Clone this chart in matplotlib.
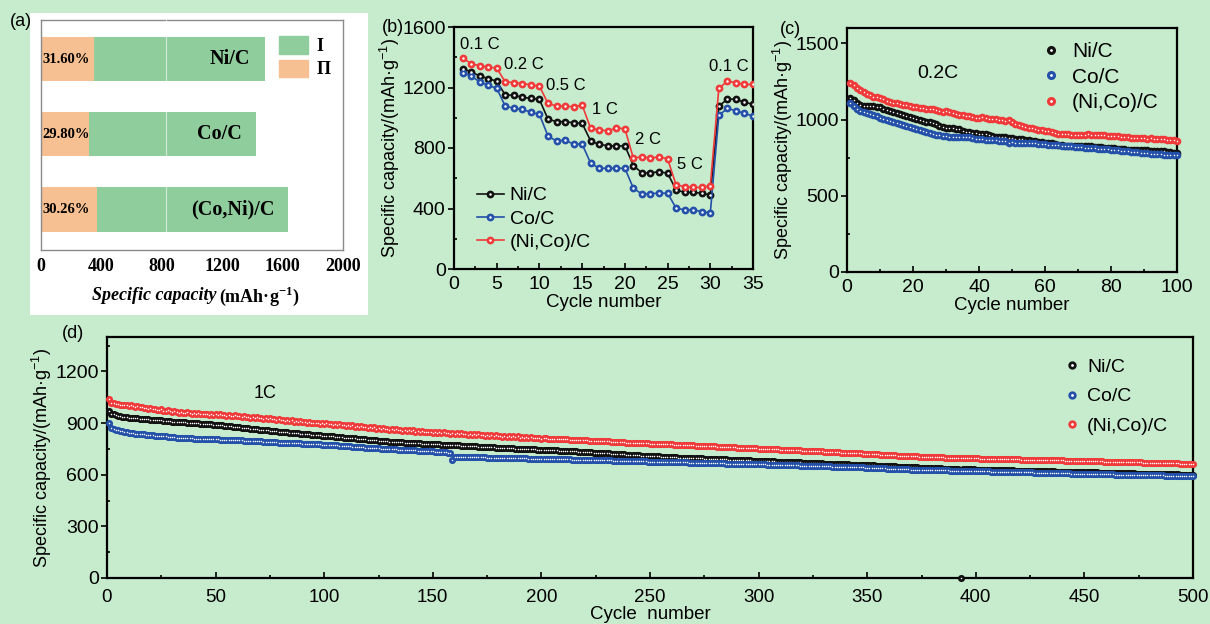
import matplotlib
matplotlib.use("Agg")
import matplotlib.pyplot as plt
import numpy as np
from matplotlib.legend_handler import HandlerTuple
from matplotlib.lines import Line2D
from matplotlib.patches import Patch, Rectangle
from matplotlib.ticker import MultipleLocator

plt.rcParams['font.family'] = ['Liberation Sans', 'DejaVu Sans']
plt.rcParams['mathtext.fontset'] = 'custom'
plt.rcParams['mathtext.rm'] = 'Liberation Sans'
plt.rcParams['mathtext.it'] = 'Liberation Sans:italic'
plt.rcParams['mathtext.bf'] = 'Liberation Serif:bold'

BG = '#c7ebcd'
BLACK = '#111111'
BLUE = '#2350a8'
RED = '#f03a3a'

# ---------------- data ----------------
# (a) capacity split
bar_names = ['Ni/C', 'Co/C', '(Co,Ni)/C']
bar_total = [1482, 1423, 1639]
bar_part2 = [348, 321, 374]
bar_pct = ['31.60%', '29.80%', '30.26%']

# (b) rate performance
rate_ni = [1325, 1303, 1277, 1259, 1242, 1150, 1150, 1134, 1130, 1121,
           991, 974, 974, 967, 963, 846, 824, 815, 813, 815,
           684, 635, 635, 644, 633, 523, 506, 506, 501, 490,
           1077, 1123, 1123, 1101, 1090]
rate_co = [1297, 1277, 1237, 1215, 1194, 1077, 1062, 1055, 1037, 1022,
           879, 846, 851, 826, 826, 699, 666, 666, 666, 666,
           534, 495, 499, 501, 501, 402, 391, 391, 380, 369,
           1015, 1062, 1046, 1029, 1011]
rate_nico = [1396, 1358, 1343, 1336, 1328, 1237, 1233, 1226, 1218, 1209,
             1095, 1077, 1077, 1073, 1084, 930, 919, 914, 932, 928,
             732, 743, 732, 743, 728, 556, 545, 539, 539, 550,
             1194, 1242, 1231, 1220, 1220]
rate_labels = ['0.1 C', '0.2 C', '0.5 C', '1 C', '2 C', '5 C', '0.1 C']

# (c) 0.2C cycling, 100 cycles
c_ni = [1140, 1125, 1108, 1096, 1090, 1089, 1088, 1087, 1084, 1080,
        1070, 1062, 1055, 1048, 1042, 1037, 1030, 1024, 1015, 1008,
        1002, 995, 990, 986, 982, 978, 970, 960, 950, 946,
        944, 942, 940, 935, 925, 920, 916, 912, 909, 907,
        905, 902, 898, 893, 888, 886, 884, 882, 880, 878,
        875, 872, 869, 866, 863, 860, 858, 855, 852, 848,
        845, 843, 840, 836, 832, 829, 828, 828, 827, 828,
        828, 826, 825, 823, 821, 820, 818, 816, 814, 812,
        810, 808, 806, 804, 803, 802, 800, 799, 798, 798,
        797, 796, 795, 794, 793, 791, 789, 786, 782, 778]
c_co = [1106, 1088, 1068, 1058, 1051, 1044, 1036, 1029, 1020, 1010,
        1004, 998, 992, 986, 980, 973, 966, 958, 950, 943,
        938, 930, 922, 915, 909, 904, 900, 898, 893, 891,
        886, 883, 883, 882, 884, 883, 882, 879, 874, 870,
        869, 868, 866, 864, 863, 862, 861, 856, 848, 852,
        848, 846, 846, 845, 844, 843, 843, 842, 840, 838,
        836, 834, 832, 830, 829, 828, 826, 824, 822, 820,
        818, 816, 814, 812, 810, 808, 807, 806, 804, 802,
        800, 798, 796, 795, 793, 790, 787, 784, 782, 780,
        778, 776, 774, 773, 772, 770, 769, 768, 767, 766]
c_nico = [1242, 1226, 1205, 1192, 1183, 1170, 1160, 1150, 1145, 1139,
          1132, 1124, 1117, 1110, 1106, 1103, 1098, 1092, 1087, 1083,
          1080, 1078, 1076, 1072, 1066, 1068, 1062, 1057, 1052, 1058,
          1048, 1040, 1035, 1032, 1028, 1026, 1023, 1018, 1012, 1008,
          1018, 1010, 1006, 1005, 1003, 1000, 995, 988, 996, 982,
          972, 966, 958, 950, 946, 941, 937, 934, 930, 926,
          922, 918, 912, 908, 905, 902, 902, 900, 899, 898,
          897, 900, 903, 898, 899, 897, 898, 896, 895, 893,
          891, 889, 887, 886, 884, 881, 878, 877, 876, 876,
          875, 876, 874, 873, 874, 870, 868, 866, 864, 862]

# (d) 1C cycling, 500 cycles
d_ni = [970, 955, 950, 945, 942, 940, 937, 935, 933, 931,
        930, 929, 928, 927, 926, 925, 924, 923, 921, 920,
        919, 918, 917, 916, 915, 914, 913, 911, 910, 908,
        908, 907, 906, 905, 904, 904, 903, 902, 901, 900,
        899, 898, 897, 896, 895, 894, 893, 892, 891, 890,
        889, 888, 886, 885, 884, 882, 881, 880, 878, 877,
        876, 874, 873, 871, 870, 868, 867, 865, 864, 862,
        861, 860, 858, 857, 856, 855, 853, 852, 851, 850,
        849, 847, 846, 845, 844, 842, 841, 840, 839, 838,
        837, 835, 834, 833, 832, 830, 829, 828, 827, 826,
        825, 824, 823, 822, 821, 820, 819, 817, 816, 815,
        814, 813, 812, 811, 810, 809, 807, 806, 805, 803,
        802, 801, 800, 799, 798, 797, 796, 795, 794, 792,
        791, 790, 790, 789, 788, 788, 787, 786, 786, 785,
        784, 784, 783, 782, 781, 776, 777, 778, 778, 778,
        777, 776, 776, 775, 774, 774, 773, 772, 772, 771,
        770, 770, 769, 768, 768, 767, 766, 766, 765, 764,
        763, 763, 762, 761, 761, 760, 759, 759, 758, 757,
        756, 756, 755, 755, 754, 753, 753, 752, 752, 751,
        750, 750, 749, 748, 748, 747, 747, 746, 745, 745,
        744, 744, 743, 742, 742, 741, 741, 740, 739, 739,
        738, 737, 737, 736, 735, 735, 734, 733, 733, 732,
        731, 731, 730, 729, 729, 728, 727, 727, 726, 725,
        724, 723, 722, 722, 721, 720, 719, 718, 717, 716,
        715, 715, 714, 713, 712, 711, 711, 710, 709, 708,
        707, 707, 706, 706, 705, 705, 704, 703, 703, 702,
        701, 701, 700, 700, 699, 699, 698, 698, 697, 697,
        696, 696, 695, 695, 694, 694, 693, 693, 692, 692,
        691, 691, 690, 689, 689, 688, 688, 687, 687, 686,
        685, 685, 684, 684, 683, 683, 682, 681, 681, 680,
        680, 679, 679, 678, 678, 677, 677, 676, 676, 675,
        675, 674, 674, 673, 673, 672, 672, 671, 671, 670,
        670, 669, 669, 668, 668, 667, 667, 666, 666, 665,
        665, 664, 664, 663, 663, 662, 662, 661, 661, 660,
        660, 659, 659, 658, 658, 657, 657, 656, 656, 655,
        655, 654, 654, 653, 653, 652, 652, 651, 651, 650,
        649, 649, 648, 647, 647, 646, 645, 645, 644, 643,
        643, 642, 642, 641, 641, 640, 640, 639, 639, 638,
        638, 637, 637, 637, 636, 636, 635, 635, 635, 634,
        634, 634, 0, 633, 633, 632, 632, 631, 631, 630,
        630, 630, 629, 629, 629, 628, 628, 628, 627, 627,
        627, 626, 626, 626, 625, 625, 625, 624, 624, 624,
        623, 623, 623, 622, 622, 622, 621, 621, 621, 621,
        620, 620, 620, 619, 619, 619, 618, 618, 618, 618,
        617, 617, 617, 616, 616, 616, 615, 615, 615, 615,
        614, 614, 614, 613, 613, 613, 612, 612, 612, 612,
        611, 611, 611, 610, 610, 610, 609, 609, 609, 609,
        608, 608, 608, 607, 607, 607, 606, 606, 606, 606,
        605, 605, 605, 604, 604, 604, 603, 603, 603, 603,
        602, 602, 602, 601, 601, 601, 600, 600, 600, 600]
d_co = [902, 872, 864, 860, 858, 855, 852, 849, 846, 843,
        842, 840, 839, 838, 836, 835, 834, 832, 831, 829,
        828, 827, 826, 825, 824, 823, 822, 820, 819, 818,
        817, 816, 816, 815, 814, 813, 812, 812, 811, 810,
        810, 809, 809, 808, 808, 807, 807, 806, 806, 805,
        805, 804, 804, 803, 803, 802, 802, 801, 801, 800,
        800, 799, 798, 798, 797, 796, 796, 795, 794, 793,
        793, 792, 791, 791, 790, 789, 789, 788, 787, 786,
        786, 785, 785, 784, 784, 783, 783, 782, 782, 781,
        780, 780, 779, 778, 778, 777, 776, 776, 775, 774,
        773, 773, 772, 771, 770, 770, 769, 768, 767, 766,
        765, 764, 763, 763, 762, 761, 760, 759, 758, 757,
        756, 755, 755, 754, 753, 752, 752, 751, 750, 749,
        748, 748, 747, 746, 746, 745, 744, 744, 743, 742,
        741, 741, 740, 739, 739, 738, 737, 737, 736, 735,
        734, 734, 733, 732, 731, 730, 729, 728, 685, 705,
        705, 705, 704, 704, 704, 703, 703, 703, 702, 702,
        702, 701, 701, 701, 700, 700, 700, 699, 699, 699,
        698, 698, 698, 697, 697, 697, 697, 696, 696, 696,
        695, 695, 695, 694, 694, 694, 694, 693, 693, 693,
        692, 692, 692, 691, 691, 691, 690, 690, 690, 690,
        689, 689, 689, 688, 688, 688, 688, 687, 687, 687,
        686, 686, 686, 685, 685, 685, 684, 684, 684, 683,
        683, 683, 682, 682, 681, 681, 681, 680, 680, 679,
        679, 679, 678, 678, 678, 677, 677, 677, 676, 676,
        676, 675, 675, 675, 674, 674, 674, 673, 673, 673,
        673, 672, 672, 672, 671, 671, 671, 670, 670, 670,
        670, 669, 669, 669, 668, 668, 668, 667, 667, 667,
        667, 666, 666, 666, 665, 665, 665, 664, 664, 664,
        664, 663, 663, 663, 662, 662, 662, 661, 661, 661,
        660, 660, 660, 659, 659, 658, 658, 658, 657, 657,
        656, 656, 656, 655, 655, 654, 654, 654, 653, 653,
        652, 652, 652, 651, 651, 650, 650, 650, 649, 649,
        648, 648, 648, 647, 647, 646, 646, 646, 645, 645,
        644, 644, 644, 643, 643, 642, 642, 642, 641, 641,
        640, 640, 639, 639, 638, 638, 637, 637, 636, 636,
        635, 635, 634, 634, 633, 633, 632, 632, 631, 630,
        630, 630, 629, 629, 629, 628, 628, 628, 627, 627,
        627, 626, 626, 626, 625, 625, 625, 624, 624, 624,
        623, 623, 623, 622, 622, 622, 621, 621, 621, 621,
        620, 620, 620, 619, 619, 619, 618, 618, 618, 618,
        617, 617, 617, 616, 616, 616, 615, 615, 615, 615,
        614, 614, 614, 613, 613, 613, 612, 612, 612, 612,
        611, 611, 611, 610, 610, 610, 609, 609, 609, 609,
        608, 608, 608, 607, 607, 607, 606, 606, 606, 606,
        605, 605, 605, 604, 604, 604, 603, 603, 603, 603,
        602, 602, 602, 601, 601, 601, 600, 600, 600, 600,
        599, 599, 599, 599, 598, 598, 598, 598, 597, 597,
        597, 597, 596, 596, 596, 596, 595, 595, 595, 595,
        594, 594, 594, 594, 593, 593, 593, 593, 593, 592]
d_nico = [1042, 1016, 1014, 1009, 1011, 1005, 1007, 1004, 1006, 1001,
          1003, 998, 996, 999, 993, 994, 989, 990, 984, 986,
          980, 983, 978, 975, 979, 973, 970, 974, 968, 966,
          969, 963, 961, 965, 960, 958, 963, 957, 955, 960,
          954, 957, 951, 955, 950, 953, 948, 955, 947, 952,
          946, 950, 944, 948, 942, 947, 943, 940, 945, 939,
          942, 937, 940, 934, 938, 932, 935, 930, 934, 928,
          931, 926, 929, 923, 927, 921, 925, 918, 922, 916,
          920, 914, 918, 911, 915, 909, 913, 906, 910, 905,
          908, 902, 906, 900, 903, 898, 901, 896, 900, 894,
          898, 893, 895, 890, 894, 888, 892, 887, 889, 884,
          887, 882, 886, 880, 884, 878, 882, 876, 879, 874,
          877, 871, 875, 868, 872, 866, 869, 864, 867, 861,
          864, 859, 863, 857, 861, 856, 860, 854, 858, 853,
          857, 851, 855, 849, 853, 847, 851, 846, 850, 844,
          848, 843, 847, 841, 846, 840, 845, 839, 843, 838,
          842, 836, 840, 834, 839, 833, 837, 831, 836, 830,
          834, 829, 833, 827, 831, 826, 830, 824, 829, 823,
          827, 821, 826, 820, 824, 819, 823, 817, 822, 816,
          820, 814, 819, 813, 818, 812, 816, 811, 815, 809,
          811, 811, 810, 809, 809, 808, 808, 807, 806, 806,
          805, 805, 804, 803, 803, 802, 802, 801, 800, 800,
          799, 798, 798, 797, 797, 796, 795, 795, 794, 794,
          793, 792, 791, 791, 790, 789, 788, 788, 787, 786,
          786, 785, 785, 784, 784, 783, 783, 782, 782, 781,
          781, 780, 780, 779, 779, 778, 778, 777, 777, 776,
          775, 775, 774, 774, 773, 772, 772, 771, 771, 770,
          769, 769, 768, 768, 767, 766, 766, 765, 765, 764,
          763, 763, 762, 762, 761, 760, 760, 759, 759, 758,
          757, 757, 756, 756, 755, 754, 754, 753, 753, 752,
          751, 751, 750, 750, 749, 748, 748, 747, 747, 746,
          745, 745, 744, 744, 743, 742, 742, 741, 741, 740,
          739, 739, 738, 738, 737, 736, 736, 735, 735, 734,
          733, 733, 732, 732, 731, 730, 730, 729, 729, 728,
          727, 727, 726, 726, 725, 724, 724, 723, 723, 722,
          721, 720, 720, 719, 718, 717, 717, 716, 715, 714,
          713, 713, 712, 711, 711, 710, 709, 709, 708, 707,
          707, 706, 706, 705, 705, 704, 704, 704, 703, 703,
          702, 702, 702, 701, 701, 700, 700, 700, 699, 699,
          698, 698, 698, 697, 697, 697, 696, 696, 695, 695,
          695, 694, 694, 694, 693, 693, 693, 692, 692, 692,
          691, 691, 691, 690, 690, 690, 689, 689, 689, 689,
          688, 688, 688, 687, 687, 687, 686, 686, 686, 686,
          685, 685, 685, 684, 684, 684, 683, 683, 683, 683,
          682, 682, 682, 681, 681, 681, 680, 680, 680, 679,
          679, 679, 678, 678, 678, 677, 677, 677, 676, 676,
          676, 675, 675, 675, 674, 674, 674, 673, 673, 673,
          672, 672, 672, 671, 671, 671, 670, 670, 670, 670,
          669, 669, 669, 668, 668, 668, 667, 667, 667, 667,
          666, 666, 666, 665, 665, 665, 664, 664, 664, 664]

series_names = ['Ni/C', 'Co/C', '(Ni,Co)/C']
colors = [BLACK, BLUE, RED]

W, H = 1210, 624
fig = plt.figure(figsize=(W / 100, H / 100), dpi=100)
fig.patch.set_facecolor(BG)


def box(l, t, r, b):
    return [l / W, 1 - b / H, (r - l) / W, (b - t) / H]


def style_axes(ax, xsize=14, ysize=14):
    ax.set_facecolor(BG)
    for s in ax.spines.values():
        s.set_linewidth(1.6)
        s.set_color('black')
    ax.tick_params(axis='both', which='both', width=1.2, top=False, right=False)
    ax.tick_params(axis='x', which='major', direction='in', length=4, labelsize=xsize, pad=5)
    ax.tick_params(axis='x', which='minor', direction='in', length=2.5)
    ax.tick_params(axis='y', which='major', direction='out', length=4, labelsize=ysize, pad=2)
    ax.tick_params(axis='y', which='minor', direction='in', length=2.5)


def balls(ax, x, y, color, s, z):
    ax.scatter(x, y, s=s, color=color, linewidths=0, zorder=z, clip_on=False)
    ax.scatter(x, y, s=1.2, color='white', linewidths=0, zorder=z + 0.1, clip_on=False)


def ball_handle(color, ms):
    return (Line2D([], [], ls='none', marker='o', ms=ms, mfc=color, mec=color),
            Line2D([], [], ls='none', marker='o', ms=1.0, mfc='white', mec='white'))


# ---------------- (a) ----------------
fig.patches.append(Rectangle((30 / W, 1 - 315 / H), 338 / W, 302 / H,
                             transform=fig.transFigure, facecolor='white', edgecolor='none', zorder=-5))
axa = fig.add_axes(box(41, 20, 343, 250))
axa.set_zorder(2)
axa.set_facecolor('white')
ypos = np.arange(len(bar_names))
part1 = [t - p for t, p in zip(bar_total, bar_part2)]
axa.barh(ypos, bar_part2, height=0.59, color='#f6c092', zorder=2)
axa.barh(ypos, part1, left=bar_part2, height=0.59, color='#8fcd9c', zorder=2)
axa.axvline(830, color='white', lw=0.8, alpha=0.6, zorder=3)
for i in range(len(bar_names)):
    axa.text(bar_total[i] - 95, ypos[i], bar_names[i], ha='right', va='center',
             family='Liberation Serif', weight='bold', fontsize=14.5, zorder=4)
    axa.text(12, ypos[i], bar_pct[i], ha='left', va='center',
             family='Liberation Serif', weight='bold', fontsize=10.5, zorder=4)
axa.set_xlim(0, 2000)
axa.set_ylim(2.54, -0.52)
axa.set_yticks([])
axa.set_xticks(np.arange(0, 2001, 400))
axa.tick_params(axis='x', length=0, labelsize=13, pad=6)
for lab in axa.get_xticklabels():
    lab.set_family('Liberation Serif')
    lab.set_weight('bold')
for s in axa.spines.values():
    s.set_color('#8a8a8a')
    s.set_linewidth(1.0)
axa.legend(handles=[Patch(color='#8fcd9c', label='I'), Patch(color='#f6c092', label='Π')],
           loc='upper left', bbox_to_anchor=(0.733, 1.0), frameon=False,
           prop={'family': ['Liberation Serif', 'DejaVu Serif'], 'weight': 'bold', 'size': 13},
           handlelength=1.65, handleheight=1.1, labelspacing=0.25, handletextpad=0.45)
fig.text(216 / W, 1 - 296 / H, 'Specific capacity', ha='right', va='center',
         family='Liberation Serif', style='italic', weight='bold', fontsize=13)
fig.text(219 / W, 1 - 296 / H, '(mAh·g$^{\\mathbf{-1}}$)', ha='left', va='center',
         family='Liberation Serif', weight='bold', fontsize=13)
fig.text(10 / W, 1 - 22 / H, '(a)', ha='left', va='center', fontsize=13)

# ---------------- (b) ----------------
axb = fig.add_axes(box(454, 27, 753, 269))
style_axes(axb)
cyc_b = np.arange(1, len(rate_ni) + 1)
handles_b = []
for vals, col, name in zip([rate_ni, rate_co, rate_nico], colors, series_names):
    ln, = axb.plot(cyc_b, vals, color=col, lw=1.2, marker='o', ms=4.6, mfc=col, mec=col, zorder=3)
    wt, = axb.plot(cyc_b, vals, ls='none', marker='o', ms=0.8, mfc='white', mec='white', zorder=4)
    handles_b.append((ln, wt))
axb.set_xlim(0, 35)
axb.set_ylim(0, 1600)
axb.xaxis.set_major_locator(MultipleLocator(5))
axb.xaxis.set_minor_locator(MultipleLocator(2.5))
axb.yaxis.set_major_locator(MultipleLocator(400))
axb.yaxis.set_minor_locator(MultipleLocator(200))
axb.set_xlabel('Cycle number', fontsize=13.5, labelpad=1)
axb.set_ylabel('Specific capacity/(mAh·g$^{-1}$)', fontsize=13, labelpad=0)
rate_x = [0.7, 5.85, 10.8, 16.1, 21.2, 26.1, 29.9]
rate_y = [1484, 1354, 1215, 1057, 857, 688, 1336]
for t, x, y in zip(rate_labels, rate_x, rate_y):
    axb.text(x, y, t, ha='left', va='center', fontsize=12)
axb.legend(handles_b, series_names, handler_map={tuple: HandlerTuple(ndivide=1)},
           loc='lower left', bbox_to_anchor=(0.03, 0.017), frameon=False, fontsize=14,
           handlelength=1.4, labelspacing=0.3, handletextpad=0.3, borderpad=0.2)
fig.text(382 / W, 1 - 27 / H, '(b)', ha='left', va='center', fontsize=13)

# ---------------- (c) ----------------
axc = fig.add_axes(box(847, 28, 1177, 272))
style_axes(axc)
cyc_c = np.arange(1, len(c_ni) + 1)
for vals, col, z in zip([c_ni, c_co, c_nico], colors, [3, 4, 5]):
    balls(axc, cyc_c, vals, col, 30, z)
axc.set_xlim(0, 100)
axc.set_ylim(0, 1600)
axc.xaxis.set_major_locator(MultipleLocator(20))
axc.xaxis.set_minor_locator(MultipleLocator(10))
axc.yaxis.set_major_locator(MultipleLocator(500))
axc.yaxis.set_minor_locator(MultipleLocator(250))
axc.set_xlabel('Cycle number', fontsize=13.5, labelpad=1)
axc.set_ylabel('Specific capacity/(mAh·g$^{-1}$)', fontsize=13, labelpad=0)
axc.text(27.6, 1303, '0.2C', ha='center', va='center', fontsize=14)
axc.legend([ball_handle(c, 5.5) for c in colors], series_names,
           handler_map={tuple: HandlerTuple(ndivide=1)},
           loc='upper left', bbox_to_anchor=(0.53, 1.02), frameon=False, fontsize=15,
           handlelength=1.0, labelspacing=0.32, handletextpad=0.5)
fig.text(780 / W, 1 - 30 / H, '(c)', ha='left', va='center', fontsize=13)

# ---------------- (d) ----------------
axd = fig.add_axes(box(107, 337, 1193, 578))
style_axes(axd, xsize=13.5, ysize=14)
axd.tick_params(axis='x', which='major', pad=8)
cyc_d = np.arange(1, len(d_ni) + 1)
for vals, col, z in zip([d_ni, d_co, d_nico], colors, [3, 4, 5]):
    balls(axd, cyc_d, vals, col, 26, z)
axd.set_xlim(0, 500)
axd.set_ylim(0, 1400)
axd.xaxis.set_major_locator(MultipleLocator(50))
axd.xaxis.set_minor_locator(MultipleLocator(25))
axd.yaxis.set_major_locator(MultipleLocator(300))
axd.yaxis.set_minor_locator(MultipleLocator(150))
axd.set_xlabel('Cycle  number', fontsize=13.5, labelpad=0)
axd.set_ylabel('Specific capacity/(mAh·g$^{-1}$)', fontsize=13, labelpad=1)
axd.text(72.7, 1072, '1C', ha='center', va='center', fontsize=13)
axd.legend([ball_handle(c, 5) for c in colors], series_names,
           handler_map={tuple: HandlerTuple(ndivide=1)},
           loc='upper left', bbox_to_anchor=(0.865, 0.985), frameon=False, fontsize=14,
           handlelength=0.8, labelspacing=0.62, handletextpad=0.4)
fig.text(62 / W, 1 - 333 / H, '(d)', ha='left', va='center', fontsize=13)

fig.savefig('out.png', dpi=100, facecolor=BG)
